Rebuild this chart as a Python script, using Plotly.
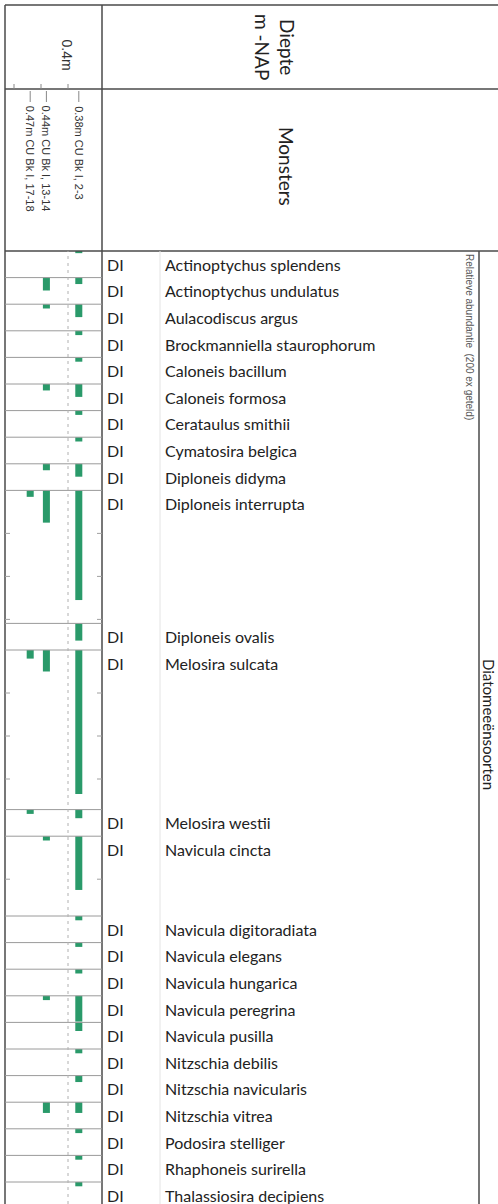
import math
import plotly.graph_objects as go

# ---- data -----------------------------------------------------------------
species = [
    "Actinoptychus splendens", "Actinoptychus undulatus", "Aulacodiscus argus",
    "Brockmanniella staurophorum", "Caloneis bacillum", "Caloneis formosa",
    "Cerataulus smithii", "Cymatosira belgica", "Diploneis didyma",
    "Diploneis interrupta", "Diploneis ovalis", "Melosira sulcata",
    "Melosira westii", "Navicula cincta", "Navicula digitoradiata",
    "Navicula elegans", "Navicula hungarica", "Navicula peregrina",
    "Navicula pusilla", "Nitzschia debilis", "Nitzschia navicularis",
    "Nitzschia vitrea", "Podosira stelliger", "Rhaphoneis surirella",
    "Thalassiosira decipiens",
]
group_code = "DI"

sample_labels = ["0.38m CU Bk I, 2-3", "0.44m CU Bk I, 13-14", "0.47m CU Bk I, 17-18"]
sample_depths = [0.38, 0.44, 0.47]

# relative abundance (%) per sample, same order as species
abund_038 = [0.5, 1.5, 3.0, 1.0, 1.0, 3.0, 1.0, 1.0, 3.0, 25.5, 4.0, 33.5, 2.0,
             12.5, 1.0, 1.0, 1.0, 6.0, 2.0, 1.0, 1.5, 2.5, 1.0, 1.0, 1.0]
abund_044 = [0, 3.0, 1.0, 0, 0, 1.5, 0, 0, 1.5, 7.5, 0, 5.0, 0,
             1.0, 0, 0, 0, 1.0, 0, 0, 0, 2.5, 0, 0, 0]
abund_047 = [0, 0, 0, 0, 0, 0, 0, 0, 0, 1.5, 0, 2.0, 1.0,
             0, 0, 0, 0, 0, 0, 0, 0, 0, 0, 0, 0]

depth_ticks = [0.40, 0.45, 0.50]
depth_tick_text = ["0.4m", "", ""]
abundance_tick_step = 10  # % between scale ticks inside tall rows

# ---- geometry -------------------------------------------------------------
W, H = 498, 1204
def px(x):
    return x / W
def py(y):
    return 1 - y / H

PX_PER_PCT = 4.3
ROW_PX = 26.6
ROW_UNIT = ROW_PX / PX_PER_PCT           # one table row in % units
PX_PER_M = 540.0
X_REF_PX, X_REF_M = 68, 0.40
PANEL_L, PANEL_R = 5, 102
BODY_TOP = 251

columns = [abund_038, abund_044, abund_047]
row_spans = []
for i in range(len(species)):
    m = max(col[i] for col in columns)
    row_spans.append(max(1, math.ceil(m / ROW_UNIT)))
row_tops = []
acc = 0.0
for s in row_spans:
    row_tops.append(acc)
    acc += s * ROW_UNIT

BAR_COLOR = "#2a9a6a"
FRAME = "#4a4a4a"
ROWLINE = "#9a9a9a"

fig = go.Figure()
for depth, vals in zip(sample_depths, columns):
    xs = [depth for v in vals if v > 0]
    ys = [v for v in vals if v > 0]
    bs = [t for t, v in zip(row_tops, vals) if v > 0]
    fig.add_trace(go.Bar(x=xs, y=ys, base=bs, width=0.013,
                         marker=dict(color=BAR_COLOR, line=dict(width=0)),
                         hoverinfo="skip", showlegend=False))

shapes = []
def pline(x0, y0, x1, y1, color=FRAME, width=1.5, dash=None):
    d = dict(type="line", xref="paper", yref="paper",
             x0=px(x0), y0=py(y0), x1=px(x1), y1=py(y1),
             line=dict(color=color, width=width))
    if dash:
        d["line"]["dash"] = dash
    shapes.append(d)

# table frame
pline(5, 5, W, 5)
pline(5, 5, 5, H)
pline(5, 89, W, 89)
pline(5, 251, W, 251)
pline(102, 5, 102, H)
pline(479, 251, 479, H)
pline(160, 251, 160, H, color="#e4e4e4", width=1)

# row separators in the diagram panel
for t in row_tops[1:]:
    shapes.append(dict(type="line", xref="paper", yref="y",
                       x0=px(PANEL_L), x1=px(PANEL_R), y0=t, y1=t,
                       line=dict(color=ROWLINE, width=1)))

# abundance scale ticks on both panel edges inside tall rows
for t, s in zip(row_tops, row_spans):
    k = abundance_tick_step
    while k < s * ROW_UNIT - 0.5:
        for a, b in ((PANEL_L, PANEL_L + 5), (PANEL_R - 5, PANEL_R)):
            shapes.append(dict(type="line", xref="paper", yref="y",
                               x0=px(a), x1=px(b), y0=t + k, y1=t + k,
                               line=dict(color="#a0a0a0", width=1)))
        k += abundance_tick_step

# dashed reference line at 0.4 m
shapes.append(dict(type="line", xref="x", yref="paper", x0=0.4, x1=0.4,
                   y0=0, y1=py(BODY_TOP),
                   line=dict(color="#b0b0b0", width=1, dash="3px,4px")))

# depth axis ticks in the header
for d in depth_ticks:
    shapes.append(dict(type="line", xref="x", yref="paper", x0=d, x1=d,
                       y0=py(84), y1=py(89), line=dict(color="#888", width=1)))
# sample position ticks
for d in sample_depths:
    shapes.append(dict(type="line", xref="x", yref="paper", x0=d, x1=d,
                       y0=py(91), y1=py(102), line=dict(color="#888", width=1)))

ann = []
HUM = "Lato, 'Open Sans', sans-serif"
ARI = "'Liberation Sans', Arial, sans-serif"

ann.append(dict(text="Diepte<br>m -NAP", xref="paper", yref="paper",
                x=px(275), y=py(47), xanchor="center", yanchor="middle",
                textangle=90, showarrow=False,
                font=dict(family=HUM, size=19, color="#222"), align="center"))
ann.append(dict(text="Monsters", xref="paper", yref="paper",
                x=px(286), y=py(166), xanchor="center", yanchor="middle",
                textangle=90, showarrow=False,
                font=dict(family=HUM, size=19, color="#222")))

for d, t in zip(depth_ticks, depth_tick_text):
    if t:
        ann.append(dict(text=t, xref="x", yref="paper", x=d, xshift=-2,
                        y=py(72), xanchor="center", yanchor="bottom",
                        textangle=90, showarrow=False,
                        font=dict(family=ARI, size=14, color="#333")))

for d, lab in zip(sample_depths, sample_labels):
    ann.append(dict(text=lab, xref="x", yref="paper", x=d, y=py(104),
                    xanchor="center", yanchor="top", textangle=90,
                    showarrow=False,
                    font=dict(family=ARI, size=11, color="#333")))

for name, t in zip(species, row_tops):
    yc = t + ROW_UNIT / 2
    ann.append(dict(text=group_code, xref="paper", yref="y", x=px(105), y=yc,
                    xanchor="left", yanchor="middle", showarrow=False,
                    font=dict(family=HUM, size=16, color="#222")))
    ann.append(dict(text=name, xref="paper", yref="y", x=px(163), y=yc,
                    xanchor="left", yanchor="middle", showarrow=False,
                    font=dict(family=HUM, size=16, color="#222")))

ann.append(dict(text="Relatieve abundantie  (200 ex geteld)", xref="paper",
                yref="paper", x=px(470), y=py(252), xanchor="center",
                yanchor="top", textangle=90, showarrow=False,
                font=dict(family=ARI, size=10, color="#555")))
ann.append(dict(text="Diatomeeënsoorten", xref="paper", yref="paper",
                x=px(489), y=py(724), xanchor="center", yanchor="middle",
                textangle=90, showarrow=False,
                font=dict(family=HUM, size=15, color="#222")))

fig.update_layout(
    width=W, height=H, margin=dict(l=0, r=0, t=0, b=0),
    paper_bgcolor="white", plot_bgcolor="rgba(0,0,0,0)",
    barmode="overlay", showlegend=False,
    xaxis=dict(domain=[px(PANEL_L), px(PANEL_R)],
               range=[X_REF_M + (X_REF_PX - PANEL_L) / PX_PER_M,
                      X_REF_M - (PANEL_R - X_REF_PX) / PX_PER_M],
               visible=False, fixedrange=True),
    yaxis=dict(domain=[0, py(BODY_TOP)],
               range=[(H - BODY_TOP) / PX_PER_PCT, 0],
               visible=False, fixedrange=True),
    shapes=shapes, annotations=ann,
)

fig.write_html("out.html")
